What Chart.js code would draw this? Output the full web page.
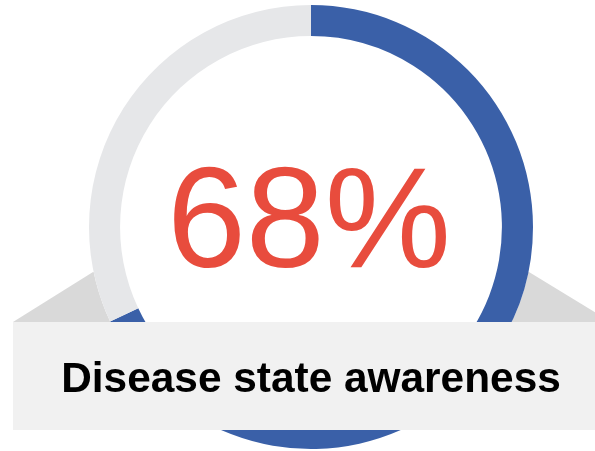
<!DOCTYPE html>
<html>
<head>
<meta charset="utf-8">
<script src="https://cdn.jsdelivr.net/npm/chart.js@4"></script>
<style>
  html, body { margin: 0; padding: 0; background: #ffffff; }
  #wrap { width: 595px; height: 451px; position: relative; }
</style>
</head>
<body>
<div id="wrap"><canvas id="chart" width="595" height="451"></canvas></div>
<script>
const labels = ["Aware", "Not aware"];
const values = [68, 32];
const colors = ["#3a60a8", "#e6e7e9"];
const centerLabel = "68%";
const caption = "Disease state awareness";

// banner behind the ring + white disc inside it
const banner = {
  id: "banner",
  beforeDatasetsDraw(chart) {
    const c = chart.ctx;
    const arc = chart.getDatasetMeta(0).data[0];
    const cx = arc.x, cy = arc.y;
    c.save();
    c.fillStyle = "#d9d9d9";
    c.beginPath();
    c.moveTo(cx - 218, 272);
    c.lineTo(cx + 218, 272);
    c.lineTo(cx + 300, 322);
    c.lineTo(cx - 298, 322);
    c.closePath();
    c.fill();
    c.fillStyle = "#ffffff";
    c.beginPath();
    c.arc(cx, cy, arc.outerRadius, 0, Math.PI * 2);
    c.fill();
    c.restore();
  },
  afterDatasetsDraw(chart) {
    const c = chart.ctx;
    const arc = chart.getDatasetMeta(0).data[0];
    const cx = arc.x;
    c.save();
    c.fillStyle = "#f1f1f1";
    c.fillRect(13, 322, 595 - 13, 108);
    c.textAlign = "center";
    c.textBaseline = "alphabetic";
    c.fillStyle = "#e84c3d";
    c.font = "142px 'Liberation Sans', Arial, sans-serif";
    c.fillText(centerLabel, cx - 2, 267);
    c.fillStyle = "#000000";
    c.font = "bold 42.4px 'Liberation Sans', Arial, sans-serif";
    c.fillText(caption, cx, 392);
    c.restore();
  }
};

new Chart(document.querySelector("#chart").getContext("2d"), {
  type: "doughnut",
  data: {
    labels: labels,
    datasets: [
      {
        data: values,
        backgroundColor: colors,
        borderWidth: 0,
      },
    ],
  },
  options: {
    responsive: false,
    animation: false,
    cutout: "86%",
    layout: { padding: { left: 27, right: 0, top: 5, bottom: 2 } },
    plugins: {
      legend: { display: false },
      tooltip: { enabled: false },
    },
  },
  plugins: [banner],
});
</script>
</body>
</html>
